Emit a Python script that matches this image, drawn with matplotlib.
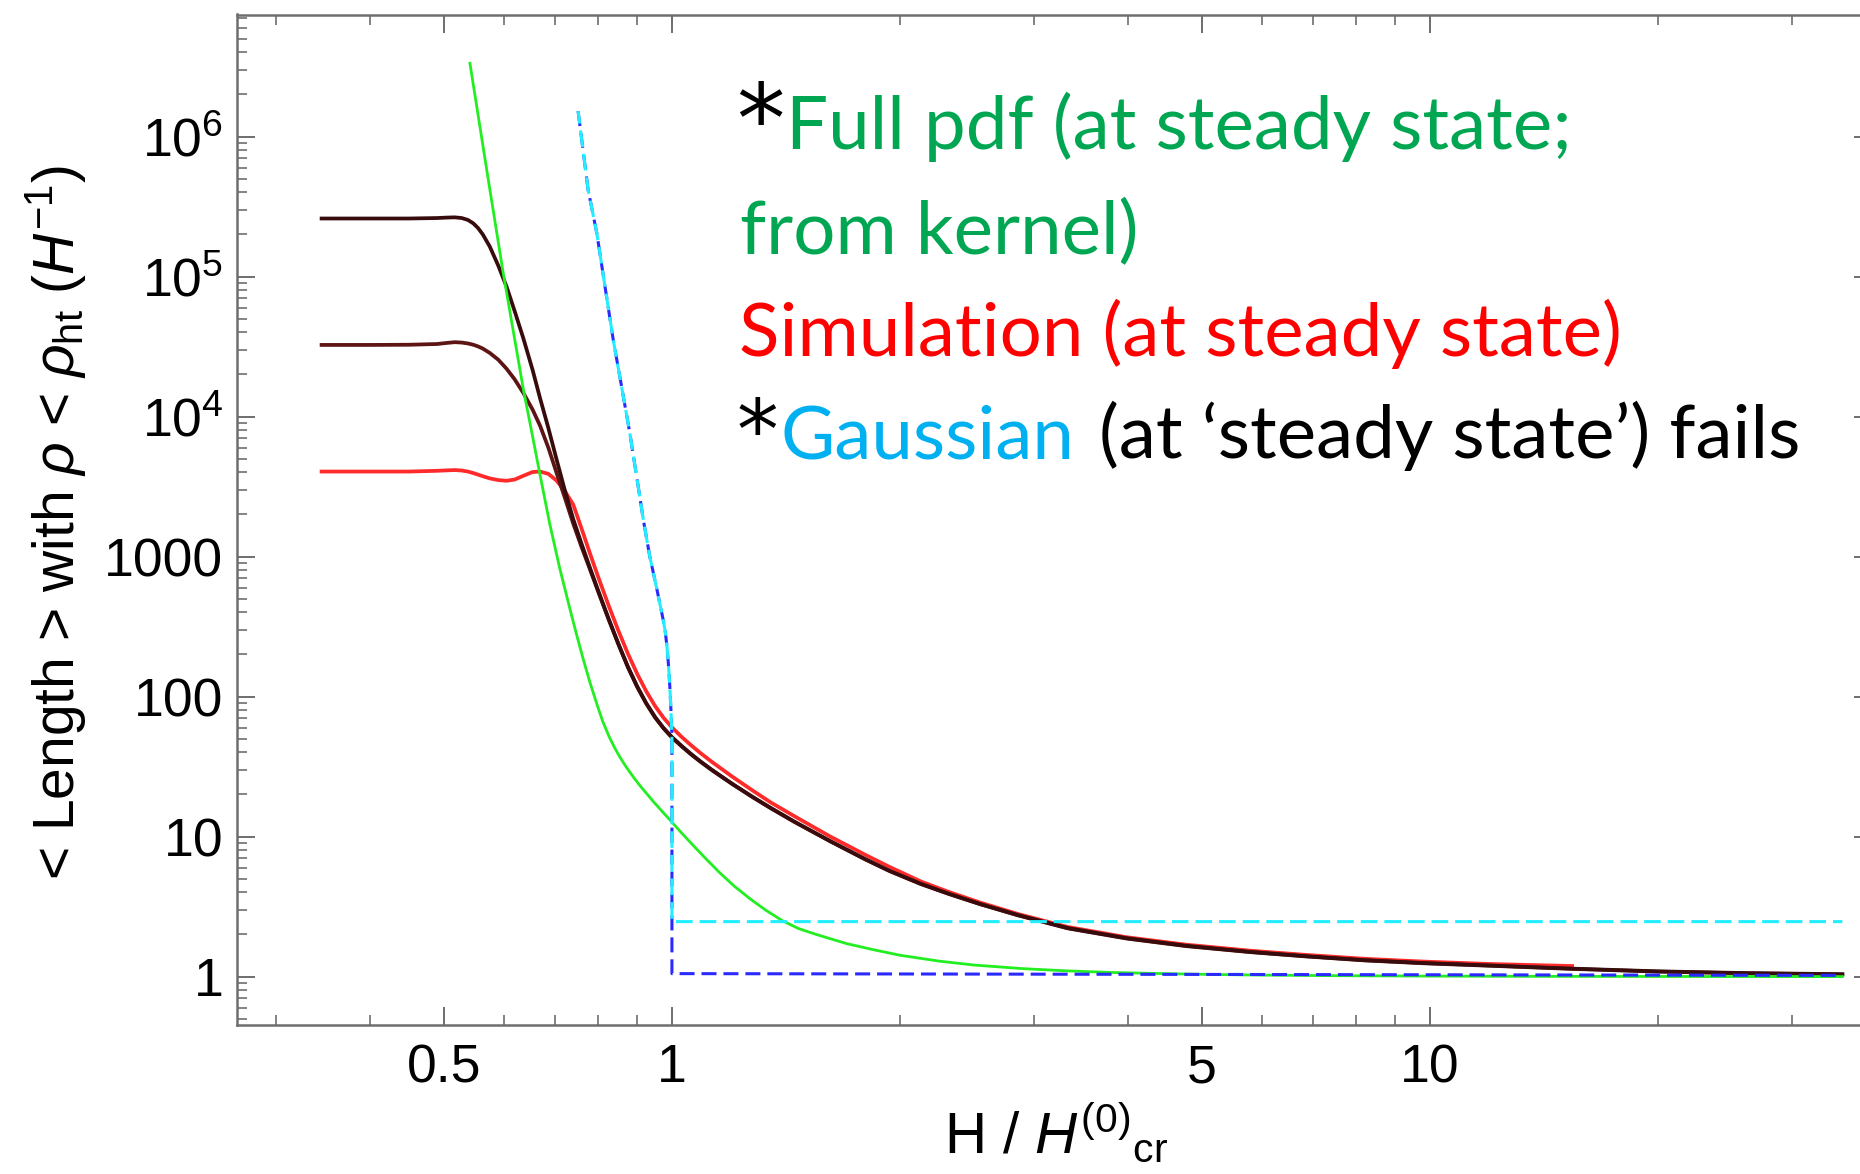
import matplotlib
matplotlib.use("Agg")
import matplotlib.pyplot as plt
from matplotlib.ticker import FixedLocator, FixedFormatter, NullFormatter, LogLocator

# ---------------- data ----------------
sim_x = [0.345, 0.40, 0.45, 0.49, 0.505, 0.517, 0.528, 0.538, 0.547, 0.555, 0.563, 0.575,
         0.59, 0.605, 0.62, 0.637, 0.655, 0.670, 0.687, 0.704, 0.722, 0.741, 0.76, 0.78,
         0.80, 0.825, 0.85, 0.875, 0.90, 0.925, 0.95, 0.975, 1.0, 1.03, 1.06, 1.09, 1.128,
         1.2, 1.28, 1.351, 1.45, 1.618, 1.8, 1.937, 2.13, 2.32, 2.55, 2.86, 3.33, 3.98,
         4.77, 5.8, 6.84, 8.2, 9.8, 12.0, 15.4, 20.0, 26.0, 35.0]
sim_top = [2.60e5, 2.60e5, 2.60e5, 2.62e5, 2.64e5, 2.65e5, 2.62e5, 2.54e5, 2.40e5, 2.22e5,
           2.00e5, 1.64e5, 1.20e5, 8.5e4, 5.7e4, 3.6e4, 2.15e4, 1.35e4, 8.3e3, 5.0e3,
           3.0e3, 1.85e3, 1.233e3, 824, 564, 360, 238, 163, 118, 89.7, 71.5, 59.6, 51.4,
           44.4, 38.9, 34.5, 30.1, 23.9, 19.1, 16.0, 12.8, 9.28, 6.89, 5.69, 4.6, 3.9,
           3.3, 2.75, 2.22, 1.88, 1.66, 1.50, 1.40, 1.31, 1.25, 1.20, 1.14, 1.09, 1.06, 1.04]
sim_mid = [3.25e4, 3.25e4, 3.26e4, 3.30e4, 3.36e4, 3.40e4, 3.38e4, 3.33e4, 3.26e4, 3.17e4,
           3.06e4, 2.85e4, 2.55e4, 2.20e4, 1.85e4, 1.47e4, 1.12e4, 8.6e3, 6.0e3, 4.0e3,
           2.65e3, 1.72e3, 1.17e3, 805, 555, 356, 236, 161.5, 117, 89, 71, 59.2, 51.0,
           44.1, 38.6, 34.3, 29.9, 23.8, 19.0, 15.9, 12.75, 9.24, 6.86, 5.67, 4.58, 3.89,
           3.29, 2.74, 2.21, 1.87, 1.65, 1.495, 1.395, 1.305, 1.245, 1.195, 1.135, 1.085,
           1.055, 1.035]
red_x = [0.345, 0.40, 0.45, 0.49, 0.505, 0.517, 0.528, 0.538, 0.547, 0.555, 0.563, 0.575,
         0.59, 0.605, 0.62, 0.637, 0.655, 0.670, 0.687, 0.704, 0.722, 0.741, 0.76, 0.78,
         0.80, 0.825, 0.85, 0.875, 0.90, 0.925, 0.95, 0.975, 1.0, 1.03, 1.06, 1.09, 1.128,
         1.2, 1.28, 1.351, 1.45, 1.618, 1.8, 1.937, 2.13, 2.32, 2.55, 2.86, 3.33, 3.98,
         4.77, 5.8, 6.84, 8.2, 9.8, 12.0, 15.4]
sim_red = [4.05e3, 4.05e3, 4.05e3, 4.10e3, 4.13e3, 4.15e3, 4.12e3, 4.05e3, 3.95e3, 3.85e3,
           3.75e3, 3.62e3, 3.52e3, 3.48e3, 3.55e3, 3.78e3, 4.02e3, 4.05e3, 3.90e3, 3.50e3,
           2.95e3, 2.35e3, 1.585e3, 1.045e3, 706, 448, 295, 202, 145, 109, 85.7, 70.5, 60.3,
           51.5, 44.9, 39.6, 34.3, 26.9, 21.2, 17.5, 14.0, 10.0, 7.4, 6.07, 4.78, 4.02,
           3.38, 2.8, 2.26, 1.91, 1.69, 1.53, 1.43, 1.34, 1.28, 1.23, 1.19]

green_x = [0.5414, 0.570, 0.599, 0.618, 0.637, 0.655, 0.670, 0.690, 0.711, 0.733, 0.748,
           0.764, 0.78, 0.796, 0.81, 0.826, 0.84, 0.854, 0.87, 0.89, 0.91, 0.926, 0.945,
           0.96, 0.98, 1.0, 1.035, 1.07, 1.11, 1.157, 1.21, 1.27, 1.33, 1.40, 1.47, 1.55,
           1.7, 1.85, 2.0, 2.25, 2.5, 2.9, 3.3, 3.8, 4.44, 5.2, 6.0, 7.5, 10.0, 14.0, 20.0, 35.0]
green_y = [3.34e6, 5.7e5, 1.06e5, 4.0e4, 1.55e4, 7.2e3, 3.82e3, 1.71e3, 830, 430, 281,
           184, 125, 88.7, 67, 52, 43.2, 36.9, 31.5, 26.5, 22.7, 20.3, 17.8,
           16.2, 14.3, 12.7, 10.3, 8.5, 6.9, 5.5, 4.4, 3.57, 2.98, 2.5, 2.2, 2.0,
           1.72, 1.55, 1.42, 1.29, 1.21, 1.14, 1.10, 1.07, 1.05, 1.035, 1.025, 1.015,
           1.008, 1.004, 1.002, 1.0]

gauss_cyan_x = [0.752, 0.775, 0.796, 0.816, 0.837, 0.858, 0.880, 0.900, 0.917, 0.935,
                0.955, 0.974, 0.98, 0.985, 0.989, 0.992, 0.995, 0.9975, 0.999, 1.0, 1.0, 35.0]
gauss_cyan_y = [1.52e6, 4.2e5, 2.04e5, 8.5e4, 3.5e4, 1.65e4, 7.6e3, 3.5e3, 1.82e3, 1.0e3,
                590, 352, 290, 228, 175, 138, 102, 75, 60, 52, 2.47, 2.47]
gauss_blue_x = [0.752, 0.775, 0.796, 0.816, 0.837, 0.858, 0.880, 0.900, 0.917, 0.935,
                0.955, 0.974, 0.98, 0.985, 0.989, 0.992, 0.995, 0.9975, 0.999, 1.0, 1.0, 35.0]
gauss_blue_y = [1.52e6, 4.2e5, 2.04e5, 8.5e4, 3.5e4, 1.65e4, 7.6e3, 3.5e3, 1.82e3, 1.0e3,
                590, 352, 290, 228, 175, 138, 102, 75, 60, 52, 1.05, 1.02]

ytick_vals = [1, 10, 100, 1000, 1e4, 1e5, 1e6]
ytick_labels = ["1", "10", "100", "1000", "$10^{4}$", "$10^{5}$", "$10^{6}$"]
xtick_vals = [0.5, 1, 5, 10]
xtick_labels = ["0.5", "1", "5", "10"]
xminor_vals = [0.3, 0.4, 0.6, 0.7, 0.8, 0.9, 2, 3, 4, 6, 7, 8, 9, 20, 30]

# ---------------- style ----------------
plt.rcParams["font.family"] = ["Liberation Sans", "DejaVu Sans"]
plt.rcParams["mathtext.fontset"] = "custom"
plt.rcParams["mathtext.rm"] = "Liberation Sans"
plt.rcParams["mathtext.it"] = "Liberation Sans:italic"
plt.rcParams["mathtext.bf"] = "Liberation Sans:bold"
plt.rcParams["lines.scale_dashes"] = False

W, H = 1860, 1174
fig = plt.figure(figsize=(W / 100, H / 100), dpi=100)
left_px, right_px, top_px, bot_px = 236.6, 1872.0, 14.5, 1025.0
ax = fig.add_axes([left_px / W, 1 - bot_px / H, (right_px - left_px) / W, (bot_px - top_px) / H])

ax.set_xscale("log")
ax.set_yscale("log")
ax.set_xlim(0.2665, 38.3)
ax.set_ylim(0.451, 7.45e6)

# curves
ax.plot(red_x, sim_red, color="#ff2a2a", lw=2.7, zorder=2)
ax.plot(sim_x, sim_mid, color="#5c1414", lw=2.7, zorder=3)
ax.plot(sim_x, sim_top, color="#380c0c", lw=2.7, zorder=4)
ax.plot(green_x, green_y, color="#22ee22", lw=2.0, zorder=5)
ax.plot(gauss_blue_x, gauss_blue_y, color="#2a2aff", lw=2.2,
        linestyle=(0, (10.8, 5.0)), zorder=6)
ax.plot(gauss_cyan_x, gauss_cyan_y, color="#22eeff", lw=2.2,
        linestyle=(3, (12.0, 5.0)), zorder=7)

# ticks
ax.yaxis.set_major_locator(FixedLocator(ytick_vals))
ax.yaxis.set_major_formatter(FixedFormatter(ytick_labels))
ax.yaxis.set_minor_locator(LogLocator(base=10, subs=range(2, 10), numticks=30))
ax.yaxis.set_minor_formatter(NullFormatter())
ax.xaxis.set_major_locator(FixedLocator(xtick_vals))
ax.xaxis.set_major_formatter(FixedFormatter(xtick_labels))
ax.xaxis.set_minor_locator(FixedLocator(xminor_vals))
ax.xaxis.set_minor_formatter(NullFormatter())

tick_col = "#6e6e6e"
ax.tick_params(which="both", direction="in", top=True, right=True, color=tick_col)
ax.tick_params(which="major", length=13, width=1.4, labelsize=38.5)
ax.tick_params(which="minor", length=7, width=1.2)
ax.tick_params(axis="x", which="major", pad=13)
ax.tick_params(axis="y", which="major", pad=9.5)
for s in ax.spines.values():
    s.set_color(tick_col)
    s.set_linewidth(1.8)

# axis labels
ax.set_xlabel(r"H / $H^{(0)}{}_{\mathrm{cr}}$", fontsize=42)
ax.xaxis.label.set_va("baseline")
ax.xaxis.set_label_coords((1056 - left_px) / (right_px - left_px), (bot_px - 1152) / (bot_px - top_px))
ax.set_ylabel(r"< Length > with $\rho$ < $\rho_{\mathrm{ht}}$ ($H^{-1}$)", fontsize=41)
ax.yaxis.label.set_va("center")
ax.yaxis.set_label_coords((56 - left_px) / (right_px - left_px), (bot_px - 523) / (bot_px - top_px))

# ---------------- annotation text ----------------
fig.canvas.draw()
renderer = fig.canvas.get_renderer()
tfont = "Lato"
probe = fig.text(0, 0, "Simulation (at steady state)", fontsize=60, family=tfont)
w = probe.get_window_extent(renderer).width
probe.remove()
fs = 60 * 882 / w

green_t = "#00a651"
red_t = "#ff0000"
cyan_t = "#00b0f0"

def put(x_px, base_px, s, col, family=tfont, size=None):
    fig.text(x_px / W, 1 - base_px / H, s, color=col, fontsize=size or fs,
             family=family, ha="left", va="baseline")

put(736, 153, "*", "black", family="DejaVu Sans", size=fs * 1.3)
put(786, 149.3, "Full pdf (at steady state;", green_t)
put(740, 254.3, "from kernel)", green_t)
put(739, 356.0, "Simulation (at steady state)", red_t)
put(737, 459, "*", "black", family="DejaVu Sans", size=fs * 1.12)
put(780, 458.3, "Gaussian", cyan_t)
put(1099, 458.3, "(at \u2018steady state\u2019) fails", "black")

fig.savefig("out.png", dpi=100)
